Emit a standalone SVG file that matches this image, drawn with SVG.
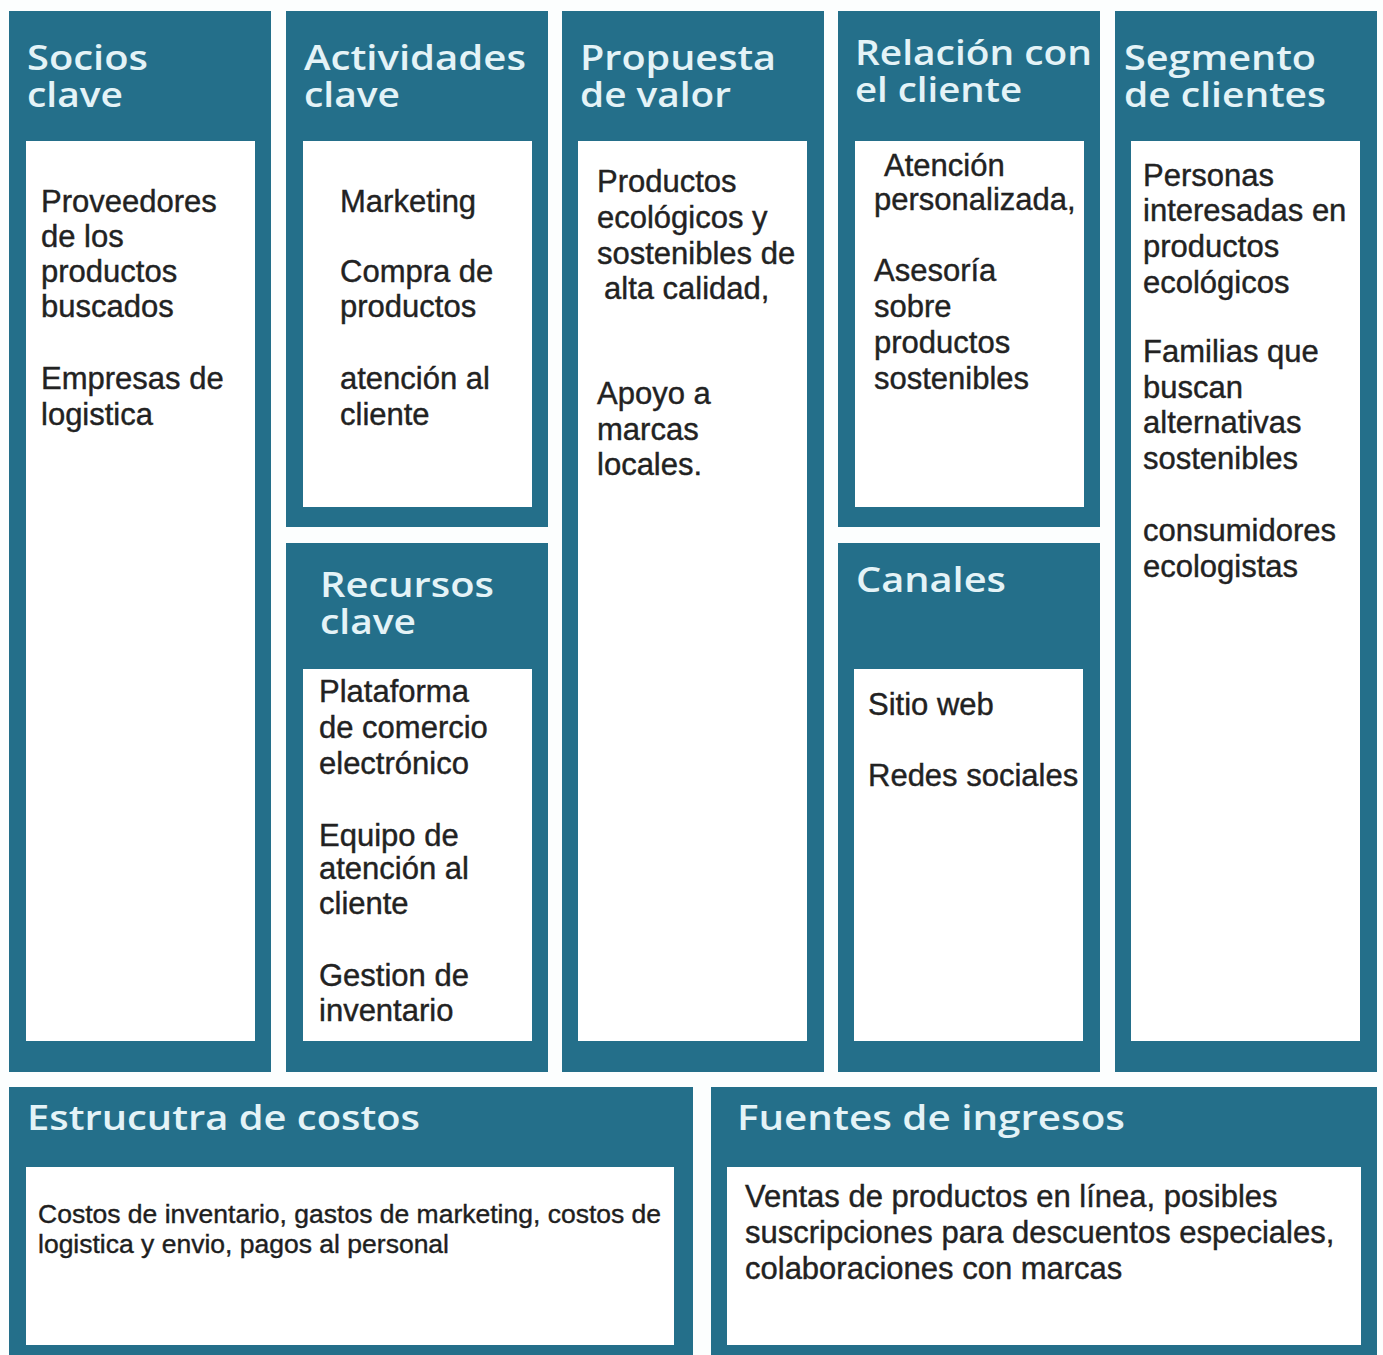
<svg xmlns="http://www.w3.org/2000/svg" width="1383" height="1355" viewBox="0 0 1383 1355">
<style>
.blk{fill:#246f8a}
.in{fill:#ffffff}
.t{font-family:"Open Sans","Liberation Sans",sans-serif;font-weight:600;font-size:35px;fill:#e4f3f7}
.b{font-family:"Liberation Sans",Arial,sans-serif;font-size:31px;fill:#222222;stroke:#222222;stroke-width:0.4}
.s{font-family:"Liberation Sans",Arial,sans-serif;font-size:26.5px;fill:#1e1e1e;stroke:#1e1e1e;stroke-width:0.4}
</style>
<rect width="1383" height="1355" fill="#fcfefe"/>
<g id="socios-clave">
<rect class="blk" x="9" y="11" width="262" height="1061"/>
<rect class="in" x="26" y="141" width="229" height="900"/>
<text class="t"><tspan x="27" y="70" textLength="121" lengthAdjust="spacingAndGlyphs">Socios</tspan><tspan x="27" y="107" textLength="96" lengthAdjust="spacingAndGlyphs">clave</tspan></text>
<text class="b" x="41" y="212">Proveedores</text>
<text class="b" x="41" y="247">de los</text>
<text class="b" x="41" y="282">productos</text>
<text class="b" x="41" y="317">buscados</text>
<text class="b" x="41" y="389">Empresas de</text>
<text class="b" x="41" y="425">logistica</text>
</g>
<g id="actividades-clave">
<rect class="blk" x="286" y="11" width="262" height="516"/>
<rect class="in" x="303" y="141" width="229" height="366"/>
<text class="t"><tspan x="304" y="70" textLength="222" lengthAdjust="spacingAndGlyphs">Actividades</tspan><tspan x="304" y="107" textLength="96" lengthAdjust="spacingAndGlyphs">clave</tspan></text>
<text class="b" x="340" y="212">Marketing</text>
<text class="b" x="340" y="282">Compra de</text>
<text class="b" x="340" y="317">productos</text>
<text class="b" x="340" y="389">atención al</text>
<text class="b" x="340" y="425">cliente</text>
</g>
<g id="recursos-clave">
<rect class="blk" x="286" y="543" width="262" height="529"/>
<rect class="in" x="303" y="669" width="229" height="372"/>
<text class="t"><tspan x="320" y="597" textLength="174" lengthAdjust="spacingAndGlyphs">Recursos</tspan><tspan x="320" y="634" textLength="96" lengthAdjust="spacingAndGlyphs">clave</tspan></text>
<text class="b" x="319" y="702">Plataforma</text>
<text class="b" x="319" y="738">de comercio</text>
<text class="b" x="319" y="774">electrónico</text>
<text class="b" x="319" y="846">Equipo de</text>
<text class="b" x="319" y="879">atención al</text>
<text class="b" x="319" y="914">cliente</text>
<text class="b" x="319" y="986">Gestion de</text>
<text class="b" x="319" y="1021">inventario</text>
</g>
<g id="propuesta-de-valor">
<rect class="blk" x="562" y="11" width="262" height="1061"/>
<rect class="in" x="578" y="141" width="229" height="900"/>
<text class="t"><tspan x="580" y="70" textLength="196" lengthAdjust="spacingAndGlyphs">Propuesta</tspan><tspan x="580" y="107" textLength="151" lengthAdjust="spacingAndGlyphs">de valor</tspan></text>
<text class="b" x="597" y="192">Productos</text>
<text class="b" x="597" y="228">ecológicos y</text>
<text class="b" x="597" y="264">sostenibles de</text>
<text class="b" x="604" y="299">alta calidad,</text>
<text class="b" x="597" y="404">Apoyo a</text>
<text class="b" x="597" y="440">marcas</text>
<text class="b" x="597" y="475">locales.</text>
</g>
<g id="relacion-con-el-cliente">
<rect class="blk" x="838" y="11" width="262" height="516"/>
<rect class="in" x="855" y="141" width="229" height="366"/>
<text class="t"><tspan x="855" y="65" textLength="237" lengthAdjust="spacingAndGlyphs">Relación con</tspan><tspan x="855" y="102" textLength="167" lengthAdjust="spacingAndGlyphs">el cliente</tspan></text>
<text class="b" x="884" y="176">Atención</text>
<text class="b" x="874" y="210">personalizada,</text>
<text class="b" x="874" y="281">Asesoría</text>
<text class="b" x="874" y="317">sobre</text>
<text class="b" x="874" y="353">productos</text>
<text class="b" x="874" y="389">sostenibles</text>
</g>
<g id="canales">
<rect class="blk" x="838" y="543" width="262" height="529"/>
<rect class="in" x="854" y="669" width="229" height="372"/>
<text class="t" x="856" y="592" textLength="150" lengthAdjust="spacingAndGlyphs">Canales</text>
<text class="b" x="868" y="715">Sitio web</text>
<text class="b" x="868" y="786">Redes sociales</text>
</g>
<g id="segmento-de-clientes">
<rect class="blk" x="1115" y="11" width="262" height="1061"/>
<rect class="in" x="1131" y="141" width="229" height="900"/>
<text class="t"><tspan x="1124" y="70" textLength="192" lengthAdjust="spacingAndGlyphs">Segmento</tspan><tspan x="1124" y="107" textLength="202" lengthAdjust="spacingAndGlyphs">de clientes</tspan></text>
<text class="b" x="1143" y="186">Personas</text>
<text class="b" x="1143" y="221">interesadas en</text>
<text class="b" x="1143" y="257">productos</text>
<text class="b" x="1143" y="293">ecológicos</text>
<text class="b" x="1143" y="362">Familias que</text>
<text class="b" x="1143" y="398">buscan</text>
<text class="b" x="1143" y="433">alternativas</text>
<text class="b" x="1143" y="469">sostenibles</text>
<text class="b" x="1143" y="541">consumidores</text>
<text class="b" x="1143" y="577">ecologistas</text>
</g>
<g id="estructura-de-costos">
<rect class="blk" x="9" y="1087" width="684" height="268"/>
<rect class="in" x="26" y="1167" width="648" height="178"/>
<text class="t" x="27" y="1130" textLength="393" lengthAdjust="spacingAndGlyphs">Estrucutra de costos</text>
<text class="s" x="38" y="1223">Costos de inventario, gastos de marketing, costos de</text>
<text class="s" x="38" y="1253">logistica y envio, pagos al personal</text>
</g>
<g id="fuentes-de-ingresos">
<rect class="blk" x="711" y="1087" width="666" height="268"/>
<rect class="in" x="727" y="1167" width="634" height="178"/>
<text class="t" x="737" y="1130" textLength="388" lengthAdjust="spacingAndGlyphs">Fuentes de ingresos</text>
<text class="b" x="745" y="1207">Ventas de productos en línea, posibles</text>
<text class="b" x="745" y="1243">suscripciones para descuentos especiales,</text>
<text class="b" x="745" y="1279">colaboraciones con marcas</text>
</g>
<g id="connectors"/>
</svg>
